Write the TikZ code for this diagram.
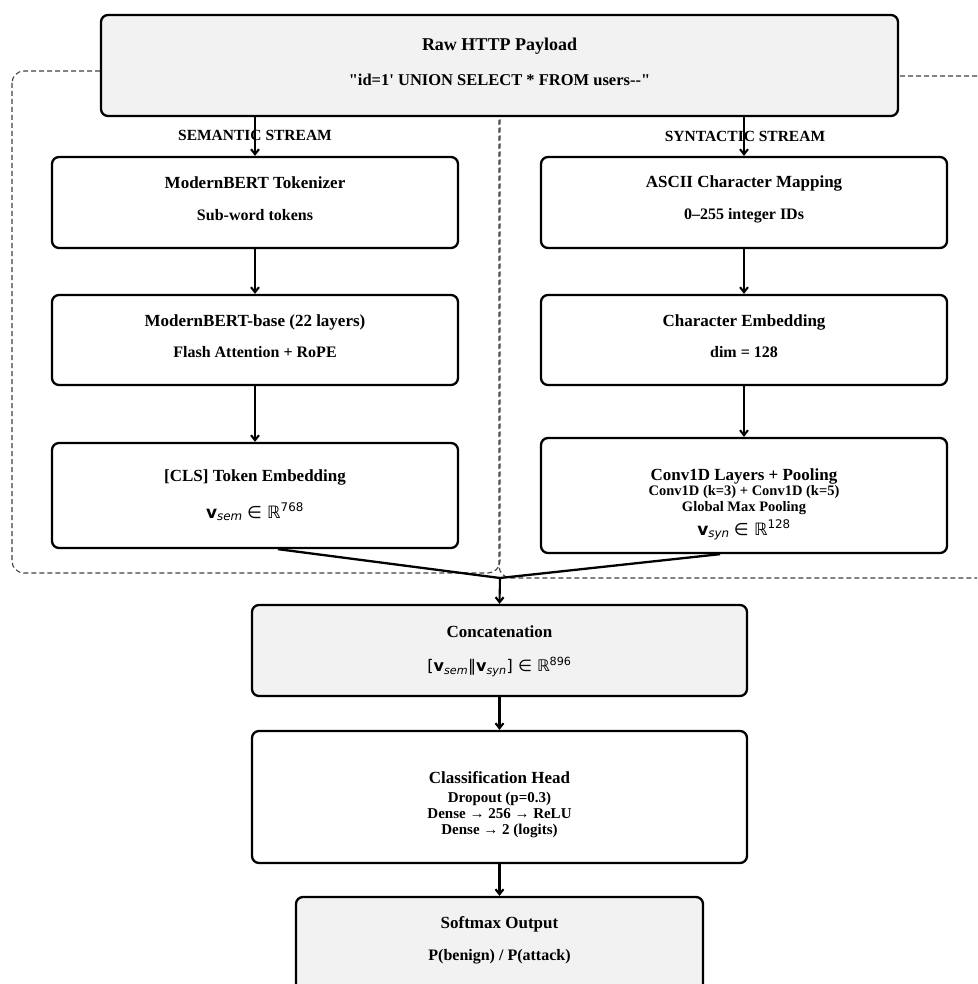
\documentclass[tikz,border=0pt]{standalone}
\usepackage{fontspec}
\setmainfont{Liberation Serif}
\newfontfamily\rawfont{Liberation Serif}
\newfontfamily\dvfont{DejaVu Sans}
\usetikzlibrary{arrows.meta}
\newcommand{\vv}[1]{{\dvfont\bfseries v}\textsubscript{\dvfont\itshape #1}}
\begin{document}
\begin{tikzpicture}[x=1pt,y=-1pt,
  box/.style={draw, line width=2.3pt, rounded corners=7pt, fill=white, rectangle, inner sep=0pt},
  gbox/.style={box, fill=black!5},
  ttl/.style={font=\fontsize{17}{20}\selectfont\bfseries, inner sep=0pt},
  sub/.style={font=\fontsize{16}{18}\selectfont\bfseries, inner sep=0pt},
  sml/.style={font=\fontsize{14.5}{15.5}\selectfont\bfseries, inner sep=0pt, align=center},
  mth/.style={font=\fontsize{17}{20}\selectfont, inner sep=0pt},
  lbl/.style={font=\fontsize{15.5}{18}\selectfont\bfseries, inner sep=0pt},
  arr/.style={line width=2.1pt, -{Straight Barb[length=5pt,width=8pt]}},
  merge/.style={line width=2.3pt},
  region/.style={draw=black!75, line width=1.1pt, dash pattern=on 5pt off 3pt, rounded corners=12pt}
]
\useasboundingbox (0,0) rectangle (977,984);
\clip (0,0) rectangle (977,984);

% dashed stream regions
\draw[region] (12,71) rectangle (500,573);
\draw[region] (499,76) rectangle (1010,578);

% top box
\node[gbox, minimum width=797pt, minimum height=101pt] (top) at (499.5,65.5) {};
\node[ttl, font=\fontsize{18}{20}\selectfont\bfseries] (topT) at (499.5,46) {Raw HTTP Payload};
\node[sub, font=\fontsize{16.5}{18}\selectfont\bfseries\rawfont] (topS) at (499.5,80) {"id=1' UNION SELECT * FROM users--"};

% stream labels
\node[lbl] (semL) at (255,135) {SEMANTIC STREAM};
\node[lbl] (synL) at (745,136) {SYNTACTIC STREAM};

% left column
\node[box, minimum width=406pt, minimum height=91pt] (L1) at (255,202.5) {};
\node[ttl] (L1T) at (255,183) {ModernBERT Tokenizer};
\node[sub] (L1S) at (255,215) {Sub-word tokens};

\node[box, minimum width=406pt, minimum height=90pt] (L2) at (255,340) {};
\node[ttl] (L2T) at (255,322) {ModernBERT-base (22 layers)};
\node[sub] (L2S) at (255,352) {Flash Attention + RoPE};

\node[box, minimum width=406pt, minimum height=105pt] (L3) at (255,495.5) {};
\node[ttl] (L3T) at (255,477) {[CLS] Token Embedding};
\node[mth] (L3S) at (255,512) {\vv{sem} {\dvfont ∈ ℝ}\textsuperscript{\dvfont 768}};

% right column
\node[box, minimum width=406pt, minimum height=91pt] (R1) at (744,202.5) {};
\node[ttl] (R1T) at (744,183) {ASCII Character Mapping};
\node[sub] (R1S) at (744,216) {0–255 integer IDs};

\node[box, minimum width=406pt, minimum height=90pt] (R2) at (744,340) {};
\node[ttl] (R2T) at (744,322) {Character Embedding};
\node[sub] (R2S) at (744,352) {dim = 128};

\node[box, minimum width=406pt, minimum height=115pt] (R3) at (744,495.5) {};
\node[ttl] (R3T) at (744,476) {Conv1D Layers + Pooling};
\node[sml] (R3S) at (744,500) {Conv1D (k=3) + Conv1D (k=5)\\Global Max Pooling};
\node[mth] (R3M) at (744,530) {\vv{syn} {\dvfont ∈ ℝ}\textsuperscript{\dvfont 128}};

% concatenation
\node[gbox, minimum width=495pt, minimum height=91pt] (cat) at (499.5,650.5) {};
\node[ttl] (catT) at (499.5,632) {Concatenation};
\node[mth, font=\fontsize{16}{18}\selectfont] (catS) at (499.5,667) {{\dvfont [}\vv{sem}{\dvfont ‖}\vv{syn}{\dvfont ] ∈ ℝ}\textsuperscript{\dvfont 896}};

% classification head
\node[box, minimum width=495pt, minimum height=132pt] (head) at (499.5,797) {};
\node[ttl] (headT) at (499.5,778) {Classification Head};
\node[sml, font=\fontsize{15}{16.3}\selectfont\bfseries] (headS) at (499.5,815) {Dropout (p=0.3)\\Dense → 256 → ReLU\\Dense → 2 (logits)};

% softmax
\node[gbox, minimum width=407pt, minimum height=110pt] (soft) at (499.5,952) {};
\node[ttl] (softT) at (499.5,924) {Softmax Output};
\node[sub] (softS) at (499.5,957) {P(benign) / P(attack)};

% connectors
\draw[arr] (top.south -| L1.north) -- (L1.north);
\draw[arr] (top.south -| R1.north) -- (R1.north);
\draw[arr] (L1) -- (L2);
\draw[arr] (L2) -- (L3);
\draw[arr] (R1) -- (R2);
\draw[arr] (R2) -- (R3);
\coordinate (m) at (500,578);
\draw[merge] ([xshift=23pt]L3.south) -- (m);
\draw[merge] ([xshift=-24pt]R3.south) -- (m);
\draw[arr] (m) -- (cat.north);
\draw[arr] (cat) -- (head);
\draw[arr] (head) -- (soft);
\end{tikzpicture}
\end{document}
